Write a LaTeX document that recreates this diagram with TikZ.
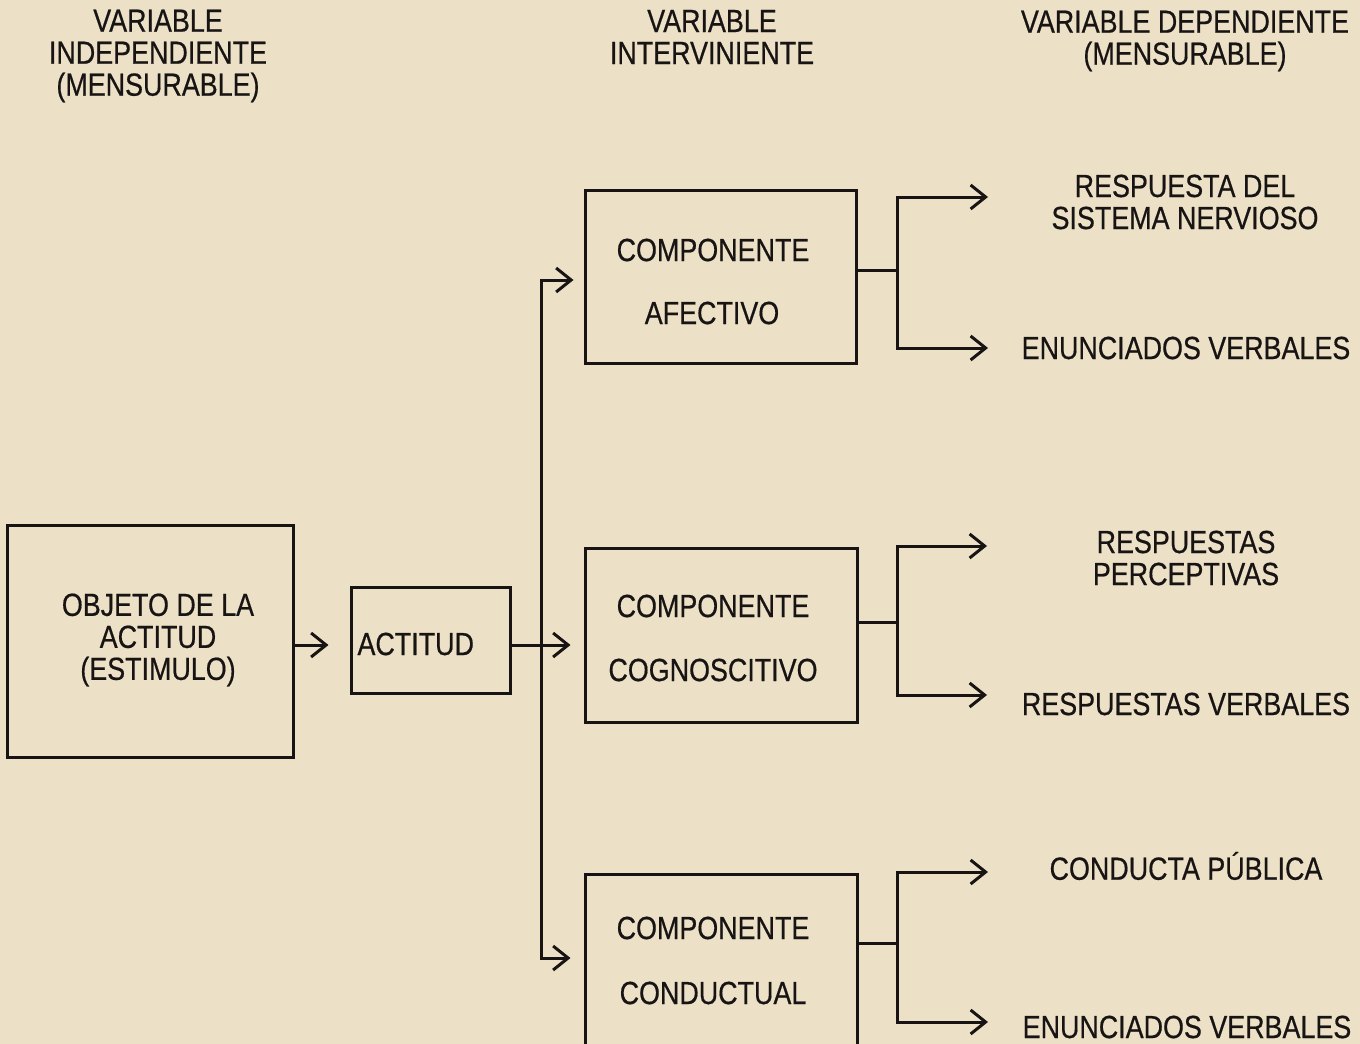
\documentclass[tikz,border=0pt]{standalone}
\usepackage{fontspec}
\usepackage{graphicx}
\setmainfont{Liberation Sans}[FakeBold=0.6]
\usetikzlibrary{arrows.meta}
\definecolor{paper}{RGB}{236,225,198}
\definecolor{ink}{RGB}{24,20,20}
\newcommand{\sx}[1]{\scalebox{0.84}[1]{#1}}
\begin{document}
\begin{tikzpicture}[x=1pt,y=-1pt, line width=3pt, draw=ink,
  font=\fontsize{32}{32}\selectfont,
  box/.style={draw=ink, rectangle, inner sep=0pt, line width=3pt},
  lbl/.style={inner sep=0pt, align=center, text=ink},
  arr/.style={-{Straight Barb[length=15pt,width=24pt,line width=3pt]}}]
\fill[paper] (0,0) rectangle (1360,1044);
\useasboundingbox (0,0) rectangle (1360,1044);
\clip (0,0) rectangle (1360,1044);

% boxes
\node[box, minimum width=286pt, minimum height=232pt] (obj) at (150,641) {};
\node[box, minimum width=159pt, minimum height=106pt] (act) at (430.5,640) {};
\node[box, minimum width=271pt, minimum height=173pt] (afe) at (720.5,276.5) {};
\node[box, minimum width=272pt, minimum height=174pt] (cog) at (721,635) {};
\node[box, minimum width=272pt, minimum height=200pt] (con) at (721,974) {};

% headers
\node[lbl] (h1) at (158,56) {\sx{VARIABLE}\\\sx{INDEPENDIENTE}\\\sx{(MENSURABLE)}};
\node[lbl] (h2) at (712,37) {\sx{VARIABLE}\\\sx{INTERVINIENTE}};
\node[lbl] (h3) at (1185,41) {\sx{VARIABLE DEPENDIENTE}\\\sx{(MENSURABLE)}};

% box texts
\node[lbl] (objt) at (158,640) {\sx{OBJETO DE LA}\\\sx{ACTITUD}\\\sx{(ESTIMULO)}};
\node[lbl, anchor=west] (actt) at (356,644) {\sx{ACTITUD}};
\node[lbl] (afe1) at (713,250) {\sx{COMPONENTE}};
\node[lbl] (afe2) at (712,313) {\sx{AFECTIVO}};
\node[lbl] (cog1) at (713,606) {\sx{COMPONENTE}};
\node[lbl] (cog2) at (713,670) {\sx{COGNOSCITIVO}};
\node[lbl] (con1) at (713,928) {\sx{COMPONENTE}};
\node[lbl] (con2) at (713,993) {\sx{CONDUCTUAL}};

% right labels
\node[lbl] (rsn) at (1185,202) {\sx{RESPUESTA DEL}\\\sx{SISTEMA NERVIOSO}};
\node[lbl] (ev1) at (1186,348) {\sx{ENUNCIADOS VERBALES}};
\node[lbl] (rp) at (1186,558) {\sx{RESPUESTAS}\\\sx{PERCEPTIVAS}};
\node[lbl] (rv) at (1186,704) {\sx{RESPUESTAS VERBALES}};
\node[lbl] (cp) at (1186,866) {\sx{CONDUCTA PÚBLICA}};
\node[lbl] (ev2) at (1187,1027) {\sx{ENUNCIADOS VERBALES}};

% left connectors
\coordinate (jA) at (541,645);
\coordinate (tT) at (541,280);
\coordinate (tB) at (541,958);
\draw[arr, shorten >=21pt] (obj.east |- jA) -- (act.west |- jA);
\draw (act.east |- jA) -- (jA);
\draw[arr, shorten >=13pt] (jA) -- (cog.west |- jA);
\draw[arr, shorten >=10pt] (tB) -- (tT) -- (afe.west |- tT);
\draw[arr, shorten >=13pt] (tT) -- (tB) -- (con.west |- tB);

% afectivo outputs
\coordinate (aJ) at (897,270);
\coordinate (a1) at (897,197);
\coordinate (a2) at (897,348);
\coordinate (a1e) at (988,197);
\coordinate (a2e) at (988,348);
\draw (afe.east |- aJ) -- (aJ);
\draw[arr] (a2) -- (a1) -- (a1e);
\draw[arr] (a1) -- (a2) -- (a2e);

% cognoscitivo outputs
\coordinate (cJ) at (897,622);
\coordinate (c1) at (897,546);
\coordinate (c2) at (897,695);
\coordinate (c1e) at (987,546);
\coordinate (c2e) at (987,695);
\draw (cog.east |- cJ) -- (cJ);
\draw[arr] (c2) -- (c1) -- (c1e);
\draw[arr] (c1) -- (c2) -- (c2e);

% conductual outputs
\coordinate (kJ) at (897,943);
\coordinate (k1) at (897,872);
\coordinate (k2) at (897,1022);
\coordinate (k1e) at (988,872);
\coordinate (k2e) at (988,1022);
\draw (con.east |- kJ) -- (kJ);
\draw[arr] (k2) -- (k1) -- (k1e);
\draw[arr] (k1) -- (k2) -- (k2e);
\end{tikzpicture}
\end{document}
